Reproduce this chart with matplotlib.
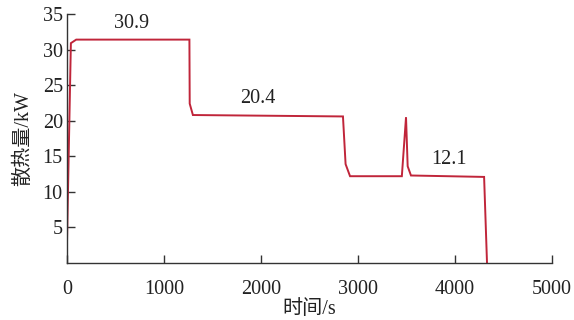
import matplotlib
matplotlib.use("Agg")
import matplotlib.pyplot as plt

# Heat dissipation over the test run
time_s = [0, 40, 95, 1262, 1265, 1298, 2845, 2872, 2918, 3452, 3495, 3512, 3546, 4300, 4330]
heat_kw = [3.0, 30.9, 31.4, 31.4, 22.4, 20.8, 20.6, 13.9, 12.2, 12.2, 20.5, 13.6, 12.3, 12.1, 0.0]

# Mean value of each stage
stage_labels = ["30.9", "20.4", "12.1"]
stage_label_x = [670, 1970, 3940]
stage_label_y = [33.7, 23.1, 14.5]

x_ticks = [0, 1000, 2000, 3000, 4000, 5000]
y_ticks = [5, 10, 15, 20, 25, 30, 35]

fonts = ["Liberation Serif", "Noto Sans CJK SC"]
plt.rcParams["font.family"] = fonts

fig = plt.figure(figsize=(5.74, 3.2), dpi=100)
ax = fig.add_axes([67 / 574, 1 - 263 / 320, (552 - 67) / 574, (263 - 14) / 320])

ax.plot(time_s, heat_kw, color="#c0253a", linewidth=1.4, solid_joinstyle="miter")

for txt, tx, ty in zip(stage_labels, stage_label_x, stage_label_y):
    ax.text(tx, ty, txt, ha="center", va="center", fontsize=14.5, color="#222222")

ax.set_xlim(0, 5000)
ax.set_ylim(0, 35)
ax.set_xticks(x_ticks)
ax.set_yticks(y_ticks)
ax.tick_params(direction="in", length=6, width=1, colors="#333333",
               labelsize=14.5, labelcolor="#222222")
ax.tick_params(axis="x", pad=12)
ax.tick_params(axis="y", pad=3)
for side in ("top", "right"):
    ax.spines[side].set_visible(False)
for side in ("left", "bottom"):
    ax.spines[side].set_color("#333333")
    ax.spines[side].set_linewidth(1.0)

ax.set_xlabel("时间/s", fontsize=14.5, color="#222222", labelpad=1)
ax.set_ylabel("散热量/kW", fontsize=14.5, color="#222222", labelpad=7)

fig.savefig("out.png", dpi=100)
